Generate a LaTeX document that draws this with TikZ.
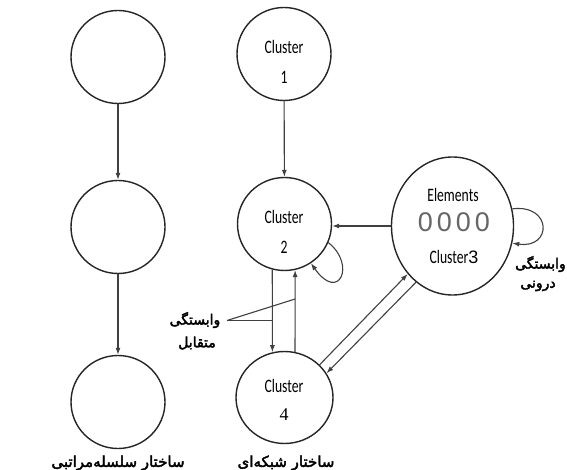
\documentclass[tikz,border=0pt]{standalone}
\usepackage{fontspec}
\usetikzlibrary{arrows.meta,shapes.geometric}
\TeXXeTstate=1
\newfontfamily\clfont[FakeStretch=0.72]{Carlito}
\newfontfamily\digserif{Liberation Serif}
\newfontfamily\digsans{Liberation Sans}
\newfontfamily\fafont[Script=Arabic,FakeBold=2.6]{DejaVu Sans}

\begin{document}
\begin{tikzpicture}[x=1pt,y=-1pt,
  ring/.style={ellipse,draw=black!85,line width=1.4pt,inner sep=0pt,
    minimum width=94pt,minimum height=93pt},
  link/.style={draw=black!75,line width=1.1pt,-{Latex[length=7pt,width=5pt]}},
  plain/.style={draw=black!75,line width=1.1pt},
  cl/.style={font=\clfont\fontsize{19}{19}\selectfont,inner sep=0pt},
  fa/.style={font=\fafont\fontsize{14}{14}\selectfont,inner sep=0pt}]
\useasboundingbox[fill=white] (0,0) rectangle (567,470);

% hierarchical column
\node[ring] (h1) at (118,57) {};
\node[ring] (h2) at (118,227) {};
\node[ring] (h3) at (118,402) {};

% network column
\node[ring] (c1) at (284,54) {};
\node[ring] (c2) at (284.5,224) {};
\node[ring,minimum width=97pt,minimum height=92pt] (c4) at (284.5,397.5) {};
\node[ring,minimum width=122pt,minimum height=138pt] (c3) at (452.5,226) {};

% cluster captions
\node[cl] (t1) at (284,47) {Cluster};
\node[cl] (n1) at (284,77) {1};
\node[cl] (t2) at (284,217) {Cluster};
\node[cl] (n2) at (284,247) {2};
\node[cl] (t4) at (284,386) {Cluster};
\node[font=\digserif\fontsize{18}{18}\selectfont,inner sep=0pt] (n4) at (284,415) {4};
\node[cl] (el) at (453,195) {Elements};
\node[font=\digsans\fontsize{27}{27}\selectfont,text=black!60,inner sep=0pt] (oo) at (454,222)
  {0\hspace{4pt}0\hspace{4pt}0\hspace{4pt}0};
\node[cl] (t3) at (454,257) {Cluster{\digsans\fontsize{18}{18}\selectfont 3}};

% hierarchy arrows
\draw[link] (h1) -- (h2);
\draw[link] (h2) -- (h3);

% network arrows
\draw[link] (c1) -- (c2);
\draw[link] (c3.west) -- (c3.west -| c2.east);
\draw[link] (c2.255) -- (c4.105);
\draw[link] (c4.77) -- (c2.283);
\draw[link] (c4.43) -- (c3.227);
\draw[link] (c3.237) -- (c4.30);

% inner dependency loops
\draw[link] (c2.337) .. controls +(28,22) and +(28,40) .. (c2.304);
\draw[link] (c3.16) .. controls +(40,-5) and +(40,6) .. (c3.344);

% pointer lines of the mutual dependency label
\coordinate (mm) at (227,320.5);
\draw[plain] (mm) -- (mm -| c2.255);
\draw[plain] (mm) -- (c2.283 |- 0,299);

% labels
\node[fa] (m1) at (195,320) {\beginR وابستگی\endR};
\node[fa] (m2) at (197,343) {\beginR متقابل\endR};
\node[fa,anchor=east] (i1) at (566,264) {\beginR وابستگی\endR};
\node[fa] (i2) at (538,286) {\beginR درونی\endR};
\node[fa,font=\fafont\fontsize{15}{15}\selectfont] (s1) at (118,463) {\beginR ساختار سلسله‌مراتبی\endR};
\node[fa,font=\fafont\fontsize{15}{15}\selectfont] (s2) at (286,463) {\beginR ساختار شبکه‌ای\endR};
\end{tikzpicture}
\end{document}
